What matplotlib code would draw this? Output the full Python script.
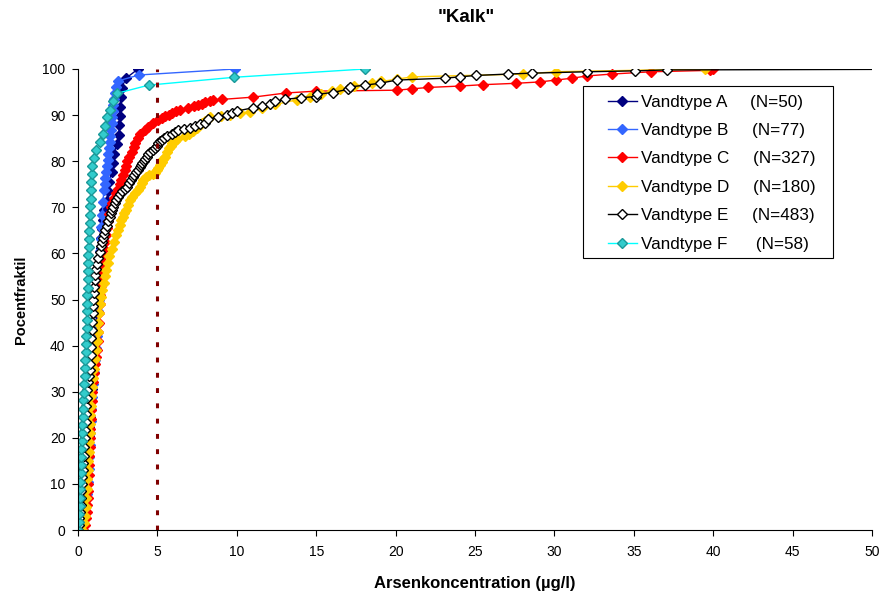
import matplotlib
matplotlib.use("Agg")
import matplotlib.pyplot as plt
from matplotlib.patches import Rectangle

plt.rcParams['font.family'] = ['Liberation Sans', 'DejaVu Sans']

# data: (percentile, arsenic concentration in ug/l)
vandtype_a = [(0, 0.15), (2.0, 0.25), (4.1, 0.31), (6.1, 0.36), (8.2, 0.42), (10.2, 0.47),
              (12.2, 0.50), (14.3, 0.55), (16.3, 0.60), (18.4, 0.64), (20.4, 0.67), (22.4, 0.70),
              (24.5, 0.74), (26.5, 0.78), (28.6, 0.82), (30.6, 0.86), (32.7, 0.90), (34.7, 0.95),
              (36.7, 1.00), (38.8, 1.05), (40.8, 1.10), (42.9, 1.14), (44.9, 1.18), (46.9, 1.22),
              (49.0, 1.26), (51.0, 1.29), (53.1, 1.31), (55.1, 1.33), (57.1, 1.36), (59.2, 1.39),
              (61.2, 1.42), (63.3, 1.46), (65.3, 1.50), (67.3, 1.55), (69.4, 1.62), (71.4, 1.80),
              (73.5, 1.90), (75.5, 1.95), (77.6, 2.12), (79.6, 2.18), (81.6, 2.24), (83.7, 2.46),
              (85.7, 2.58), (87.8, 2.60), (89.8, 2.64), (91.8, 2.67), (93.9, 2.69), (95.9, 2.75),
              (98.0, 3.02), (100, 3.78)]

vandtype_b = [(0, 0.30), (2.6, 0.45), (5.3, 0.52), (7.9, 0.58), (10.5, 0.63), (13.2, 0.67),
              (15.8, 0.71), (18.4, 0.74), (21.1, 0.77), (23.7, 0.80), (26.3, 0.85), (28.9, 0.89),
              (31.6, 0.94), (34.2, 0.99), (36.8, 1.04), (39.5, 1.12), (42.1, 1.20), (44.7, 1.26),
              (47.4, 1.29), (50.0, 1.31), (52.6, 1.32), (55.3, 1.33), (57.9, 1.35), (60.5, 1.38),
              (63.2, 1.42), (65.8, 1.47), (68.4, 1.53), (71.1, 1.58), (73.7, 1.62), (75.0, 1.68),
              (76.3, 1.72), (77.6, 1.78), (78.9, 1.80), (80.3, 1.86), (81.6, 1.90), (82.9, 1.95),
              (84.2, 2.00), (85.5, 2.04), (86.8, 2.08), (88.2, 2.12), (89.5, 2.16), (90.8, 2.19),
              (92.1, 2.21), (93.4, 2.24), (94.7, 2.33), (96.1, 2.40), (97.4, 2.50), (98.7, 3.84),
              (100, 9.88)]

vandtype_c = [(0, 0.30), (1, 0.45), (2.5, 0.50), (4, 0.54), (5.5, 0.58), (7, 0.60), (8.5, 0.62),
              (10, 0.64), (12, 0.67), (14, 0.69), (16, 0.71), (18, 0.73), (20, 0.76), (22, 0.78),
              (24, 0.81), (26, 0.84), (28, 0.87), (30, 0.90), (32, 0.94), (34, 0.99), (36, 1.05),
              (37.5, 1.12), (39, 1.20), (41, 1.25), (43, 1.28), (45, 1.32), (47, 1.35), (49, 1.38),
              (51, 1.40), (53, 1.43), (55, 1.46), (56.5, 1.49), (58, 1.53), (59.5, 1.58), (61, 1.64),
              (62.5, 1.70), (64, 1.76), (65.5, 1.83), (67, 1.89), (68.5, 1.95), (70, 2.05), (71, 2.15),
              (72, 2.28), (73, 2.40), (74, 2.52), (75, 2.62), (76, 2.72), (77, 2.85), (78, 2.95),
              (79, 3.00), (80, 3.06), (81, 3.22), (82, 3.38), (83, 3.50), (84, 3.59), (85, 3.75),
              (86, 3.90), (86.8, 4.20), (87.5, 4.43), (88.2, 4.74), (88.9, 5.06), (89.3, 5.30),
              (89.7, 5.48), (90.1, 5.70), (90.4, 5.90), (90.8, 6.20), (91.1, 6.42), (91.5, 6.95),
              (91.9, 7.30), (92.2, 7.58), (92.5, 7.80), (92.9, 8.00), (93.1, 8.30), (93.3, 8.50),
              (93.4, 9.05), (93.9, 11.04), (94.8, 13.10), (95.2, 15.00), (95.4, 20.07), (95.7, 21.05),
              (96.0, 22.06), (96.3, 24.05), (96.6, 25.50), (96.9, 27.60), (97.2, 29.10), (97.6, 30.08),
              (98.0, 31.10), (98.5, 32.07), (98.9, 33.60), (99.4, 36.10), (99.7, 39.80), (100, 40.00)]

vandtype_d = [(0, 0.25), (1.5, 0.38), (3, 0.45), (5, 0.50), (7, 0.53), (9, 0.55), (11, 0.58),
              (13, 0.62), (15, 0.65), (17, 0.68), (19, 0.70), (21, 0.73), (23, 0.76), (25, 0.78),
              (27, 0.81), (29, 0.84), (31, 0.88), (33, 0.93), (35, 0.99), (37, 1.08), (39, 1.12),
              (41, 1.17), (43, 1.24), (45, 1.29), (47, 1.34), (49, 1.40), (50.6, 1.45), (52, 1.53),
              (53.5, 1.62), (55, 1.70), (56.5, 1.78), (58, 1.88), (59.5, 1.98), (61, 2.12),
              (62.5, 2.25), (64, 2.38), (65.1, 2.50), (66.2, 2.62), (67.2, 2.72), (68, 2.82),
              (68.7, 2.92), (69.5, 3.02), (70.5, 3.15), (71.5, 3.28), (72.3, 3.40), (73, 3.58),
              (73.7, 3.75), (74.5, 3.90), (75.3, 4.00), (75.9, 4.10), (76.5, 4.30), (77, 4.50),
              (77.2, 4.70), (77.4, 4.85), (78, 5.00), (78.5, 5.06), (79.2, 5.15), (79.9, 5.27),
              (80.5, 5.38), (81, 5.48), (82, 5.60), (82.8, 5.72), (83.4, 5.85), (83.9, 5.95),
              (84.4, 6.10), (84.9, 6.25), (85.4, 6.74), (86, 7.00), (86.5, 7.26), (87.3, 7.50),
              (88.2, 7.79), (88.8, 8.00), (89.5, 8.30), (89.8, 9.00), (90.0, 9.57), (90.4, 10.20),
              (90.7, 10.83), (91.5, 11.60), (92.3, 12.40), (93.3, 13.77), (94.0, 14.60), (94.6, 15.30),
              (95.2, 16.00), (95.7, 16.50), (96.3, 17.40), (96.9, 18.50), (97.3, 19.10), (97.8, 20.10),
              (98.3, 21.05), (98.9, 28.04), (99.4, 30.08), (100, 39.50)]

vandtype_e = [(0, 0.02), (1, 0.05), (2.5, 0.09), (4, 0.13), (5.5, 0.16), (7, 0.19), (8.5, 0.22),
              (10, 0.24), (11.5, 0.27), (13, 0.30), (14.5, 0.32), (16, 0.35), (18, 0.39), (20, 0.42),
              (21.8, 0.45), (23.5, 0.48), (25.2, 0.50), (27, 0.52), (28.7, 0.55), (30.4, 0.58),
              (32, 0.64), (33.3, 0.70), (34.7, 0.73), (36, 0.76), (38, 0.79), (39.8, 0.82),
              (41.6, 0.84), (43.4, 0.86), (45.2, 0.89), (47, 0.92), (48.5, 0.94), (50, 0.97),
              (51.4, 1.00), (52.8, 1.02), (54.2, 1.05), (55.4, 1.09), (56.6, 1.13), (57.8, 1.18),
              (59, 1.27), (60.2, 1.36), (61.5, 1.45), (62.4, 1.50), (63.3, 1.56), (64.2, 1.63),
              (65.1, 1.70), (66, 1.80), (67, 1.90), (67.9, 2.00), (68.7, 2.08), (69.4, 2.15),
              (70.1, 2.22), (70.9, 2.33), (71.6, 2.42), (72.3, 2.52), (72.9, 2.66), (73.5, 2.80),
              (74, 2.95), (74.5, 3.10), (75.2, 3.22), (75.9, 3.35), (76.5, 3.45), (77, 3.55),
              (77.6, 3.68), (78.1, 3.80), (78.7, 3.88), (79.2, 3.95), (79.6, 4.05), (80, 4.15),
              (80.5, 4.24), (81.0, 4.33), (81.5, 4.42), (82.1, 4.53), (82.5, 4.70), (82.8, 4.85),
              (83.4, 4.95), (83.9, 5.06), (84.3, 5.17), (84.6, 5.27), (85.1, 5.42), (85.5, 5.58),
              (86.0, 5.90), (86.4, 6.10), (86.8, 6.32), (87.0, 6.70), (87.3, 7.05), (87.7, 7.37),
              (88.0, 7.70), (88.2, 8.00), (89.2, 8.20), (89.5, 8.84), (90.0, 9.36), (90.4, 9.70),
              (90.9, 10.03), (91.6, 11.04), (92.0, 11.57), (92.5, 12.10), (93.0, 12.40), (93.4, 13.04),
              (93.8, 14.04), (94.0, 15.00), (94.5, 15.05), (94.9, 16.04), (95.6, 17.00), (96.1, 17.10),
              (96.5, 18.07), (96.9, 19.00), (97.6, 20.07), (98.0, 23.10), (98.3, 24.05), (98.6, 25.06),
              (98.9, 27.06), (99.1, 28.57), (99.4, 32.07), (99.6, 35.10), (99.8, 37.10), (100, 60.00)]

vandtype_f = [(0, 0.02), (1.8, 0.06), (3.5, 0.08), (5.3, 0.10), (7.0, 0.12), (8.8, 0.13),
              (10.5, 0.15), (12.3, 0.17), (14.0, 0.19), (15.8, 0.21), (17.5, 0.22), (19.3, 0.24),
              (21.1, 0.26), (22.8, 0.27), (24.6, 0.29), (26.3, 0.31), (28.1, 0.34), (29.8, 0.36),
              (31.6, 0.38), (33.3, 0.41), (35.1, 0.44), (36.8, 0.46), (38.6, 0.48), (40.4, 0.50),
              (42.1, 0.52), (43.9, 0.54), (45.6, 0.56), (47.4, 0.57), (49.1, 0.58), (50.9, 0.59),
              (52.6, 0.60), (54.4, 0.61), (56.1, 0.63), (57.9, 0.65), (59.6, 0.66), (61.4, 0.67),
              (63.2, 0.69), (64.9, 0.72), (66.7, 0.74), (68.4, 0.76), (70.2, 0.78), (71.9, 0.80),
              (73.7, 0.81), (75.4, 0.82), (77.2, 0.86), (78.9, 0.90), (80.7, 0.98), (82.5, 1.15),
              (84.2, 1.38), (86.0, 1.58), (87.7, 1.70), (89.5, 1.84), (91.2, 2.04), (93.0, 2.22),
              (94.7, 2.43), (96.5, 4.45), (98.2, 9.82), (100, 18.07)]

labels = ['Vandtype A     (N=50)', 'Vandtype B     (N=77)', 'Vandtype C     (N=327)',
          'Vandtype D     (N=180)', 'Vandtype E     (N=483)', 'Vandtype F      (N=58)']
grænseværdi = 5  # dashed limit line


def main():
    fig = plt.figure(figsize=(8.9, 5.94), dpi=100)
    ax = fig.add_axes([78 / 890, 1 - 530 / 594, 794 / 890, 461 / 594])

    styles = [
        dict(color='#000080', mfc='#000080', mec='#000080'),
        dict(color='#3366FF', mfc='#3366FF', mec='#3366FF'),
        dict(color='#FF0000', mfc='#FF0000', mec='#FF0000'),
        dict(color='#FFCC00', mfc='#FFCC00', mec='#FFCC00'),
        dict(color='black', mfc='white', mec='black'),
        dict(color='#00FFFF', mfc='#33CCCC', mec='#1A9999'),
    ]
    series = [vandtype_a, vandtype_b, vandtype_c, vandtype_d, vandtype_e, vandtype_f]
    for data, lab, st in zip(series, labels, styles):
        pct = [p for p, _ in data]
        conc = [c for _, c in data]
        ax.plot(conc, pct, marker='D', markersize=5.3, markeredgewidth=1.0,
                linewidth=1.0, label=lab, **st)

    ax.plot([grænseværdi, grænseværdi], [0, 100], color='#800000', linewidth=2.2,
            dashes=(1.6, 3.4))

    ax.set_xlim(0, 50)
    ax.set_ylim(0, 100)
    ax.set_xticks(range(0, 51, 5))
    ax.set_yticks(range(0, 101, 10))
    ax.spines['top'].set_visible(False)
    ax.spines['right'].set_visible(False)
    ax.tick_params(direction='out', length=4, width=0.8, labelsize=10)
    ax.tick_params(axis='x', pad=7)
    ax.tick_params(axis='y', pad=5)
    ax.set_xlabel('Arsenkoncentration (µg/l)', fontsize=12, fontweight='bold', labelpad=12)
    ax.set_ylabel('Pocentfraktil', fontsize=10.5, fontweight='bold', labelpad=10)

    fig.text(466 / 890, 1 - 22 / 594, '"Kalk"', ha='center', va='baseline',
             fontsize=13.5, fontweight='bold')

    # legend box drawn separately so the entries can sit further in
    ax.add_patch(Rectangle((583 / 890, 1 - 258 / 594), 250 / 890, 172 / 594,
                           transform=fig.transFigure, facecolor='white', edgecolor='black',
                           linewidth=0.8, zorder=4.9, clip_on=False))
    ax.legend(loc='upper left', bbox_to_anchor=(599 / 890, 1 - 86 / 594),
              bbox_transform=fig.transFigure, borderaxespad=0, frameon=False,
              fontsize=12.3, labelspacing=0.785, handlelength=1.7, handletextpad=0.25,
              borderpad=0.5)

    fig.savefig('out.png', dpi=100)


if __name__ == "__main__":
    main()
